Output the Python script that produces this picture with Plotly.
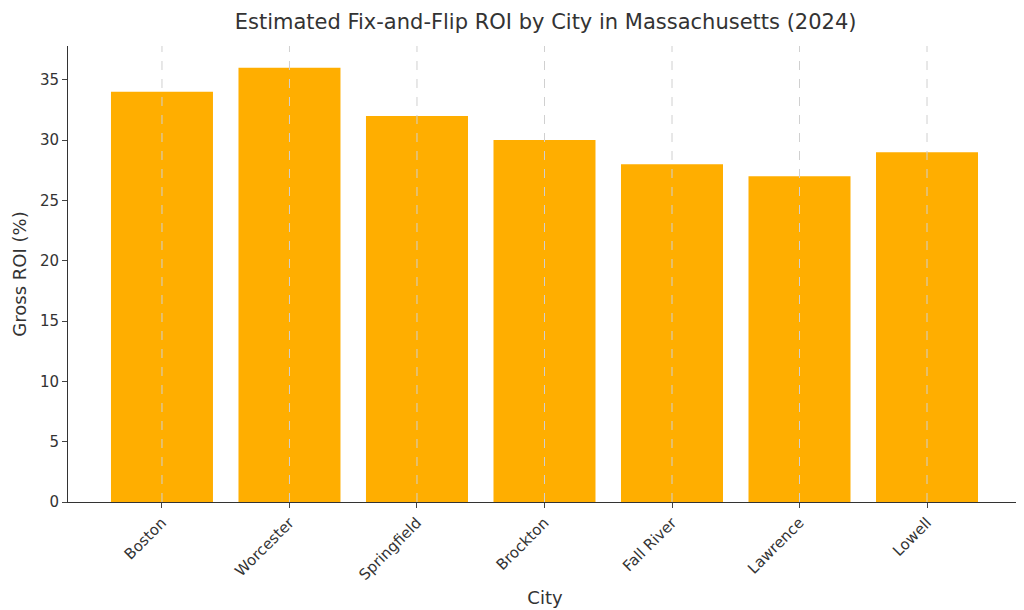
import plotly.graph_objects as go

cities = ["Boston", "Worcester", "Springfield", "Brockton", "Fall River", "Lawrence", "Lowell"]
roi = [34, 36, 32, 30, 28, 27, 29]
yticks = [0, 5, 10, 15, 20, 25, 30, 35]

fig = go.Figure(go.Bar(x=list(range(len(cities))), y=roi, width=0.8,
                       marker=dict(color="#FFAE00", line=dict(width=0))))
fig.update_layout(
    width=1024, height=610, plot_bgcolor="white", paper_bgcolor="white",
    margin=dict(l=60, r=10, t=38, b=116, autoexpand=False),
    font=dict(family="DejaVu Sans", color="#333333", size=15),
    title=dict(text="Estimated Fix-and-Flip ROI by City in Massachusetts (2024)",
               x=0.525, xanchor="center", y=0.99, yanchor="top", font=dict(size=21)),
    showlegend=False,
)
for i in range(len(cities)):
    fig.add_shape(type="line", xref="x", yref="paper", x0=i, x1=i, y0=0, y1=1,
                  line=dict(color="#d0d0d0", width=1, dash="dash"), layer="above")
fig.update_xaxes(range=[-0.737, 6.745], tickvals=list(range(len(cities))), ticktext=cities,
                 tickangle=-45, showgrid=False, automargin=False,
                 showline=True, linecolor="#333333", ticks="outside", ticklen=5,
                 title=dict(text="City", standoff=8))
fig.update_yaxes(range=[0, 37.8], tickvals=yticks, showgrid=False, zeroline=False, automargin=False,
                 showline=True, linecolor="#333333", ticks="outside", ticklen=5,
                 title=dict(text="Gross ROI (%)", standoff=8))
fig.write_html("out.html")
